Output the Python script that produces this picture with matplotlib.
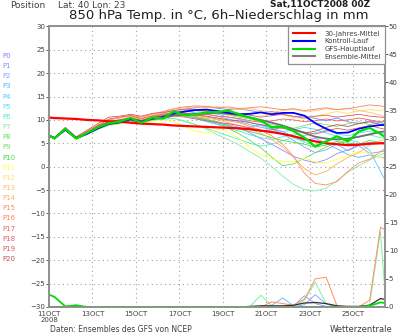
import numpy as np
import matplotlib
matplotlib.use("Agg")
import matplotlib.pyplot as plt
from matplotlib.lines import Line2D

# forecast hours (6h first step, then 12h steps)
hours = [0, 6, 18, 30, 42, 54, 66, 78, 90, 102, 114,
         126, 138, 150, 162, 174, 186, 198, 210, 222, 234, 246,
         258, 270, 282, 294, 306, 318, 330, 342, 354, 366, 372]

tick_hours = [0, 48, 96, 144, 192, 240, 288, 336]
tick_labels = ["11OCT\n2008", "13OCT", "15OCT", "17OCT", "19OCT", "21OCT", "23OCT", "25OCT"]

# 850 hPa temperature, main lines
gfs = [6.7, 6.0, 8.1, 6.0, 7.2, 8.4, 9.3, 9.6, 10.4, 9.4, 10.5,
       10.3, 11.8, 11.0, 11.2, 11.6, 11.7, 12.0, 11.2, 10.5, 9.8, 8.4,
       8.6, 7.6, 6.2, 4.3, 5.4, 6.5, 5.4, 7.5, 8.3, 7.0, 6.2]
control = [6.6, 6.1, 7.9, 6.1, 7.0, 8.2, 9.2, 9.5, 10.2, 9.6, 10.3,
           10.6, 11.4, 11.8, 12.1, 12.2, 11.9, 11.5, 11.2, 11.3, 11.6, 11.2,
           11.5, 11.5, 10.9, 9.3, 8.1, 7.2, 7.3, 8.1, 8.6, 8.9, 8.9]
ens_mean = [6.7, 6.1, 7.9, 6.1, 7.1, 8.2, 9.1, 9.4, 10.0, 9.6, 10.2,
            10.4, 11.0, 11.1, 11.3, 11.4, 11.5, 11.3, 11.0, 10.5, 10.0, 9.4,
            8.8, 8.0, 7.2, 6.4, 6.0, 5.8, 6.0, 6.4, 6.9, 7.4, 7.6]
climate = [10.5, 10.4, 10.3, 10.2, 10.0, 9.9, 9.7, 9.6, 9.4, 9.2, 9.1,
           9.0, 8.8, 8.7, 8.6, 8.5, 8.4, 8.3, 8.2, 8.0, 7.7, 7.4,
           7.0, 6.5, 5.9, 5.4, 5.0, 4.8, 4.6, 4.7, 4.9, 5.0, 5.0]

# ensemble members P0..P20
p0 = [6.8, 6.1, 8.0, 6.2, 7.2, 8.5, 9.5, 9.8, 10.5, 10.2, 10.9,
      11.4, 12.0, 12.3, 12.6, 12.8, 12.5, 12.2, 12.4, 12.0, 11.6, 11.8,
      11.2, 10.6, 10.9, 10.3, 9.8, 10.4, 9.6, 9.2, 9.8, 9.4, 9.2]
p1 = [6.6, 6.0, 7.8, 6.0, 7.0, 8.0, 9.0, 9.3, 10.0, 9.3, 10.0,
      10.5, 11.2, 11.0, 10.4, 10.0, 9.6, 9.0, 8.4, 7.2, 6.0, 4.8,
      3.5, 2.2, 1.4, 0.8, 1.5, 2.8, 3.6, 4.6, 5.2, 5.0, 5.3]
p2 = [6.7, 5.9, 7.9, 5.9, 7.1, 8.3, 9.1, 9.5, 10.1, 9.8, 10.6,
      11.0, 11.6, 11.9, 11.5, 11.2, 10.8, 10.2, 9.6, 9.0, 8.4, 8.0,
      7.0, 5.6, 4.2, 3.0, 3.6, 4.8, 3.4, 4.5, 2.8, 3.2, 3.4]
p3 = [6.6, 6.0, 7.9, 6.1, 7.2, 8.2, 9.2, 9.6, 10.3, 9.4, 10.1,
      10.8, 11.3, 11.1, 10.6, 9.8, 9.1, 8.6, 8.0, 8.5, 9.0, 8.2,
      7.5, 6.4, 5.5, 6.1, 5.0, 3.8, 2.6, 2.0, 2.5, 2.0, 1.8]
p4 = [6.7, 6.1, 8.0, 6.0, 7.0, 8.1, 9.0, 9.4, 10.1, 9.7, 10.4,
      10.9, 11.5, 11.8, 12.0, 11.6, 11.2, 10.6, 10.1, 9.5, 8.8, 8.0,
      7.5, 7.9, 8.4, 8.0, 7.2, 6.5, 5.8, 5.2, 3.5, -1.0, -3.2]
p5 = [6.7, 6.0, 8.0, 6.1, 7.1, 8.3, 9.1, 9.5, 10.2, 9.5, 10.2,
      10.6, 11.0, 10.8, 10.3, 9.6, 9.0, 8.2, 7.6, 6.8, 6.2, 5.8,
      6.4, 7.0, 6.6, 7.2, 7.8, 7.0, 6.6, 7.2, 7.6, 7.0, 7.2]
p6 = [6.6, 6.1, 7.8, 6.0, 7.0, 8.0, 8.8, 9.2, 9.8, 9.2, 9.8,
      10.2, 10.4, 9.6, 9.0, 8.2, 7.4, 6.6, 5.8, 5.0, 4.4, 4.8,
      5.6, 6.2, 5.2, 4.6, 5.4, 6.0, 5.6, 6.4, 6.8, 6.2, 6.0]
p7 = [6.7, 6.0, 8.0, 6.0, 7.2, 8.4, 9.2, 9.6, 10.0, 9.3, 9.9,
      10.1, 10.3, 9.8, 9.0, 8.0, 6.8, 5.8, 4.6, 3.2, 1.8, 0.0,
      -2.0, -3.8, -4.9, -5.2, -4.6, -3.0, -1.2, 0.2, 1.4, 2.6, 3.0]
p8 = [6.8, 6.1, 8.1, 6.1, 7.3, 8.5, 9.4, 9.8, 10.5, 9.8, 10.6,
      11.0, 11.5, 11.3, 10.8, 10.2, 9.4, 8.2, 7.0, 5.6, 4.0, 2.0,
      0.2, 0.6, 1.8, 3.0, 4.2, 5.0, 5.8, 6.4, 7.0, 7.6, 7.4]
p9 = [6.7, 6.0, 8.1, 6.0, 7.2, 8.4, 9.3, 9.7, 10.4, 9.6, 10.4,
      10.8, 11.6, 11.9, 12.0, 11.8, 11.5, 11.0, 10.6, 10.2, 9.6, 9.0,
      8.6, 8.2, 8.8, 9.4, 9.0, 8.6, 9.2, 9.6, 9.0, 9.4, 9.2]
p10 = [6.6, 6.0, 8.0, 6.0, 7.1, 8.3, 9.2, 9.6, 10.3, 9.5, 10.2,
       10.5, 11.0, 10.9, 10.6, 10.0, 9.5, 8.8, 8.0, 7.5, 6.9, 6.2,
       5.6, 5.2, 4.8, 4.2, 4.6, 5.4, 5.0, 4.8, 5.6, 5.2, 5.0]
p11 = [6.7, 6.0, 8.0, 5.8, 6.9, 8.0, 8.9, 9.2, 9.6, 9.2, 9.7,
       10.0, 9.6, 8.6, 7.6, 7.2, 8.0, 7.4, 6.0, 4.0, 2.6, 1.6,
       1.2, 1.0, 1.8, 1.0, 0.8, 1.6, 2.4, 3.2, 2.8, 2.0, 1.6]
p12 = [6.8, 6.1, 8.2, 6.1, 7.3, 8.5, 9.4, 9.8, 10.6, 10.0, 10.8,
       11.3, 11.8, 12.2, 12.0, 11.6, 11.4, 11.0, 10.8, 10.4, 10.9, 11.4,
       11.0, 10.6, 10.2, 10.8, 11.3, 11.8, 11.4, 11.9, 12.2, 12.0, 12.3]
p13 = [6.8, 6.2, 8.2, 6.2, 7.4, 8.6, 9.6, 10.0, 10.8, 10.3, 11.0,
       11.6, 12.3, 12.6, 12.8, 12.6, 12.8, 12.5, 12.2, 12.4, 12.0, 11.6,
       12.0, 12.3, 11.8, 12.0, 12.4, 12.2, 12.5, 12.0, 11.6, 11.0, 10.6]
p14 = [6.7, 6.1, 8.0, 6.0, 7.1, 8.3, 9.2, 9.6, 10.2, 9.6, 10.4,
       10.8, 11.2, 11.0, 10.6, 10.4, 10.0, 9.4, 8.8, 8.0, 7.2, 5.8,
       4.2, 2.0, -0.4, -1.8, -1.0, 0.6, 2.0, 3.0, 4.6, 5.6, 5.8]
p15 = [6.7, 6.0, 7.9, 6.1, 7.2, 8.4, 9.4, 9.9, 10.5, 9.9, 10.6,
       11.2, 11.6, 11.4, 11.0, 10.6, 10.2, 9.8, 9.4, 8.6, 7.8, 6.6,
       4.8, 2.2, -1.4, -3.6, -3.9, -3.2, -1.0, 0.8, 1.6, 3.2, 4.0]
p16 = [6.8, 6.2, 8.3, 6.3, 7.6, 8.9, 10.0, 10.4, 11.0, 10.6, 11.2,
       11.8, 12.4, 12.8, 13.0, 12.9, 12.6, 12.8, 12.4, 12.6, 12.8, 12.5,
       12.2, 12.4, 12.0, 12.3, 12.6, 12.2, 12.4, 12.8, 13.2, 13.0, 12.8]
p17 = [6.7, 6.1, 8.1, 6.2, 7.4, 8.8, 10.2, 10.6, 10.9, 10.3, 10.8,
       11.2, 11.6, 11.4, 11.0, 11.2, 10.8, 10.6, 10.3, 9.8, 9.5, 9.8,
       10.2, 10.0, 9.6, 9.8, 10.2, 9.8, 10.0, 10.4, 10.0, 9.6, 9.8]
p18 = [6.6, 6.0, 8.0, 6.0, 7.2, 8.6, 9.6, 10.0, 10.2, 9.7, 10.1,
       10.4, 10.8, 10.6, 10.2, 9.8, 9.4, 9.2, 8.8, 8.3, 7.6, 7.9,
       8.4, 8.0, 7.4, 7.0, 7.6, 8.2, 7.8, 8.3, 8.8, 8.2, 8.0]
p19 = [6.8, 6.2, 8.4, 6.4, 7.8, 9.2, 10.6, 10.8, 11.2, 10.8, 11.4,
       11.6, 12.0, 12.3, 12.2, 11.9, 11.6, 11.8, 11.4, 11.0, 10.6, 10.9,
       11.2, 10.8, 10.4, 10.8, 11.0, 10.6, 10.9, 11.2, 10.8, 10.6, 10.5]
p20 = [6.7, 6.0, 8.1, 6.1, 7.3, 8.6, 9.7, 10.0, 10.4, 9.9, 10.5,
       10.9, 11.3, 11.5, 11.1, 10.8, 10.4, 10.0, 9.8, 9.4, 9.0, 8.6,
       8.2, 7.8, 7.2, 7.6, 8.4, 9.0, 8.6, 9.2, 9.6, 9.0, 8.8]

members = [p0, p1, p2, p3, p4, p5, p6, p7, p8, p9, p10,
           p11, p12, p13, p14, p15, p16, p17, p18, p19, p20]
member_colors = ["#8080ff", "#8c8cff", "#80a0ff", "#60b0ff", "#50d0ff", "#50e0f0",
                 "#50f0c0", "#80f0a0", "#60e060", "#70e070", "#40e040",
                 "#ffff40", "#ffe060", "#ffc060", "#ffb060", "#ff9060",
                 "#ff8060", "#f06060", "#e06060", "#d06060", "#c05050"]

# 6h precipitation in mm (right axis)
zeros11 = [0.0] * 11
precip_gfs = [2.2, 1.8, 0.1, 0.3, 0, 0, 0, 0, 0, 0, 0] + zeros11 + \
             [0, 0, 0, 0, 0, 0, 0, 0, 0.2, 0.8, 0.7]
precip_mean = zeros11 + [0, 0, 0, 0, 0, 0, 0, 0, 0.1, 0.2, 0.2] + \
              [0.2, 0.3, 0.7, 0.8, 0.6, 0.2, 0.1, 0.1, 0.3, 1.5, 1.3]
precip_p1 = zeros11 + zeros11 + [0, 0.2, 2.0, 0.6, 0.1, 0, 0, 0, 0, 0, 0]
precip_p2 = zeros11 + zeros11 + [0, 0, 0.4, 2.2, 0.5, 0, 0, 0, 0, 0, 0]
precip_p3 = zeros11 + [0, 0, 0, 0, 0, 0, 0, 0, 0, 0, 0.3] + \
            [1.6, 0.2, 0, 0, 0, 0, 0, 0, 0, 0, 0]
precip_p7 = zeros11 + [0, 0, 0, 0, 0, 0, 0, 0, 0.1, 2.1, 0.2] + \
            [0, 0, 1.2, 4.4, 0.6, 0, 0, 0, 0.4, 13.4, 0.4]
precip_p15 = zeros11 + [0, 0, 0, 0, 0, 0, 0, 0, 0, 0, 0.9] + \
             [0.6, 0.3, 1.4, 5.0, 5.3, 0.2, 0, 0, 1.2, 14.2, 13.7]

TEXT = "#404040"

fig = plt.figure(figsize=(4, 3.34), dpi=100)
ax = fig.add_axes([0.1225, 0.081, 0.84, 0.84])
ax2 = ax.twinx()

for vals, col in zip(members, member_colors):
    ax.plot(hours, vals, color=col, lw=0.6, zorder=2)
ax.plot(hours, ens_mean, color="#707070", lw=1.3, zorder=3)
ax.plot(hours, climate, color="#ff0000", lw=1.6, zorder=4)
ax.plot(hours, control, color="#0000ff", lw=1.3, zorder=5)
ax.plot(hours, gfs, color="#00dd00", lw=1.6, zorder=6)

ax2.plot(hours, precip_p1, color=member_colors[1], lw=0.6)
ax2.plot(hours, precip_p2, color=member_colors[2], lw=0.6)
ax2.plot(hours, precip_p3, color=member_colors[3], lw=0.6)
ax2.plot(hours, precip_p7, color=member_colors[7], lw=0.7)
ax2.plot(hours, precip_p15, color=member_colors[15], lw=0.7)
ax2.plot(hours, precip_mean, color="#303030", lw=0.9)
ax2.plot(hours, precip_gfs, color="#00dd00", lw=1.3)

ax.set_xlim(0, 371)
ax.set_ylim(-30, 30)
ax2.set_ylim(0, 50)
ax.set_yticks(range(-30, 31, 5))
ax2.set_yticks(range(0, 51, 5))
ax.set_xticks(tick_hours)
ax.set_xticklabels(tick_labels)
ax.grid(True, linestyle=(0, (1, 3)), color="#a0a0a0", lw=0.8)

for a in (ax, ax2):
    for s in a.spines.values():
        s.set_color("#909090")
        s.set_linewidth(1.2)
    a.tick_params(labelsize=5, colors=TEXT, length=2, width=0.6, pad=0.8)
ax.tick_params(axis="x", length=0, pad=3)
for lab in ax.get_xticklabels():
    lab.set_linespacing(0.9)

# legend
handles = [Line2D([], [], color="#ff0000", lw=1.5),
           Line2D([], [], color="#0000ff", lw=1.5),
           Line2D([], [], color="#00dd00", lw=1.5),
           Line2D([], [], color="#808080", lw=1.5)]
labels = ["30-Jahres-Mittel", "Kontroll-Lauf", "GFS-Hauptlauf", "Ensemble-Mittel"]
leg = ax2.legend(handles, labels, loc="upper right", bbox_to_anchor=(1, 1),
                 borderaxespad=0, fontsize=5, frameon=True, fancybox=False,
                 edgecolor="#909090", framealpha=1, handlelength=3.2,
                 handletextpad=1.4, labelspacing=0.25, borderpad=0.6)
leg.get_frame().set_linewidth(0.9)
for t in leg.get_texts():
    t.set_color(TEXT)

# member labels on the left
for i, col in enumerate(member_colors):
    fig.text(0.005, 1 - (56 + i * 10.15) / 334, "P" + str(i), color=col,
             fontsize=5, va="center")

fig.text(10 / 400, 1 - 5 / 334, "Position", fontsize=6.5, color=TEXT, va="center")
fig.text(58 / 400, 1 - 5 / 334, "Lat: 40 Lon: 23", fontsize=6.5, color=TEXT, va="center")
fig.text(270 / 400, 1 - 5 / 334, "Sat,11OCT2008 00Z", fontsize=6.5, color="#202020",
         weight="bold", va="center")
fig.text(219 / 400, 1 - 15 / 334, "850 hPa Temp. in \u00b0C, 6h\u2013Niederschlag in mm",
         fontsize=9.5, color="#202020", ha="center", va="center")
fig.text(50 / 400, 1 - 330 / 334, "Daten: Ensembles des GFS von NCEP", fontsize=5.5,
         color=TEXT, va="center")
fig.text(392 / 400, 1 - 330 / 334, "Wetterzentrale", fontsize=6, color=TEXT,
         ha="right", va="center")

fig.savefig("out.png", dpi=100)
